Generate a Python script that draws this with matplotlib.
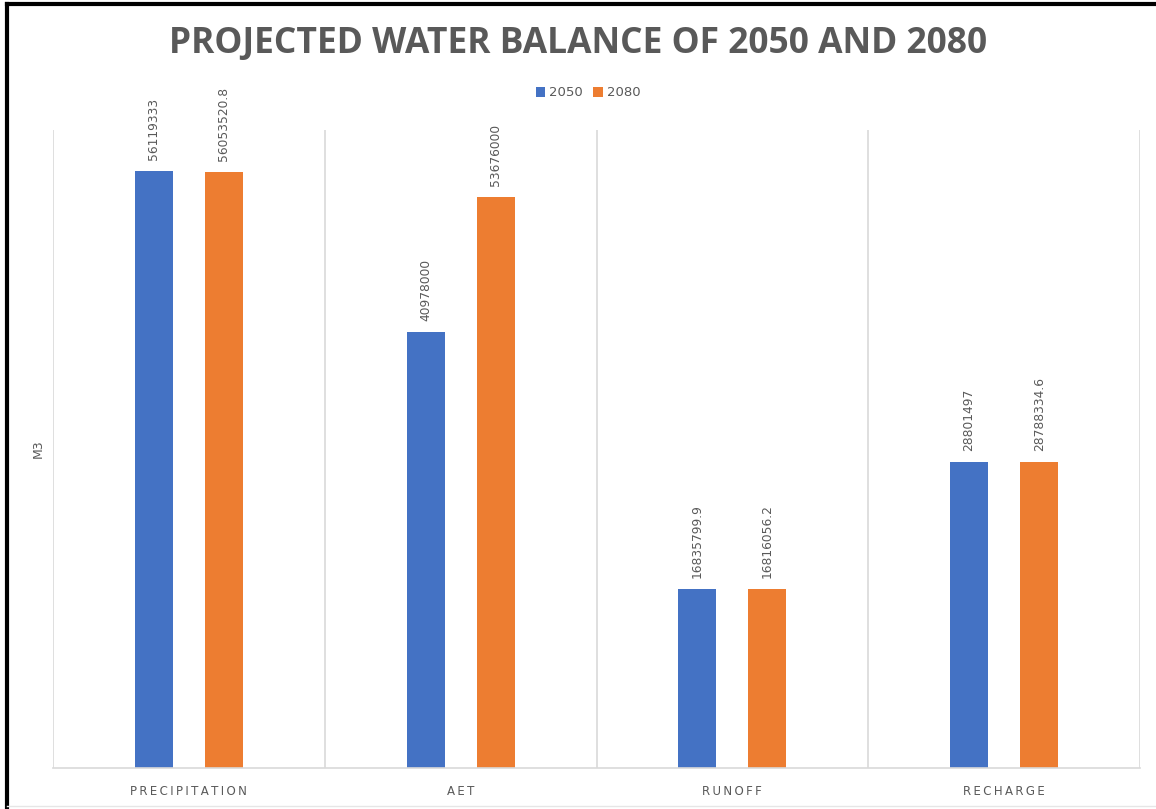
import matplotlib.pyplot as plt
import numpy as np
from matplotlib.lines import Line2D

categories = ['PRECIPITATION', 'AET', 'RUNOFF', 'RECHARGE']
years = ['2050', '2080']
vals_2050 = [56119333, 40978000, 16835799.9, 28801497]
vals_2080 = [56053520.8, 53676000, 16816056.2, 28788334.6]
labels_2050 = ['56119333', '40978000', '16835799.9', '28801497']
labels_2080 = ['56053520.8', '53676000', '16816056.2', '28788334.6']

blue = '#4472c4'
orange = '#ed7d31'
grey = '#595959'

fig = plt.figure(figsize=(11.56, 8.09), dpi=100)
ax = fig.add_axes([53 / 1156, 1 - 768 / 809, (1140 - 53) / 1156, (768 - 130) / 809])

x = np.arange(len(categories))
w = 0.14
off = 0.129
b1 = ax.bar(x - off, vals_2050, w, color=blue, label=years[0])
b2 = ax.bar(x + off, vals_2080, w, color=orange, label=years[1])

# value labels, rotated above each bar
for bars, labs in ((b1, labels_2050), (b2, labels_2080)):
    for rect, lab in zip(bars, labs):
        ax.annotate(lab, (rect.get_x() + rect.get_width() / 2, rect.get_height()),
                    xytext=(0, 8), textcoords='offset points', rotation=90,
                    ha='center', va='bottom', fontsize=8.8, color=grey)

ax.set_xlim(-0.5, len(categories) - 0.5)
ax.set_ylim(0, 60000000)
ax.set_yticks([])
ax.set_xticks(x)
ax.set_xticklabels(['\u2009'.join(c) for c in categories], fontsize=8.5, color=grey)
ax.tick_params(axis='x', length=0, pad=12)

# category separators
for b in np.arange(-0.5, len(categories), 1.0):
    ax.axvline(b, color='#d9d9d9', lw=1.2, zorder=0)
for s in ['top', 'right', 'left']:
    ax.spines[s].set_visible(False)
ax.spines['bottom'].set_color('#d9d9d9')
ax.spines['bottom'].set_linewidth(1.2)

ax.set_ylabel('M3', fontsize=9, color=grey, labelpad=6)

fig.text(0.5, 1 - 44 / 809, 'PROJECTED WATER BALANCE OF 2050 AND 2080',
         ha='center', va='center', fontsize=25.5, fontweight='bold', color=grey,
         family='Open Sans')

ax.legend(loc='center', bbox_to_anchor=(588 / 1156, (809 - 93) / 809), bbox_transform=fig.transFigure,
          ncol=2, frameon=False, fontsize=9.5, handlelength=0.7, handleheight=0.7,
          handletextpad=0.3, columnspacing=0.8, labelcolor=grey)

# outer frame
fig.add_artist(Line2D([7 / 1156, 7 / 1156], [0, 1 - 4 / 809], color='black', lw=3))
fig.add_artist(Line2D([7 / 1156, 1], [1 - 4 / 809, 1 - 4 / 809], color='black', lw=3))
fig.add_artist(Line2D([7 / 1156, 1], [3 / 809, 3 / 809], color='#e6e6e6', lw=1))

fig.savefig('out.png', dpi=100)
